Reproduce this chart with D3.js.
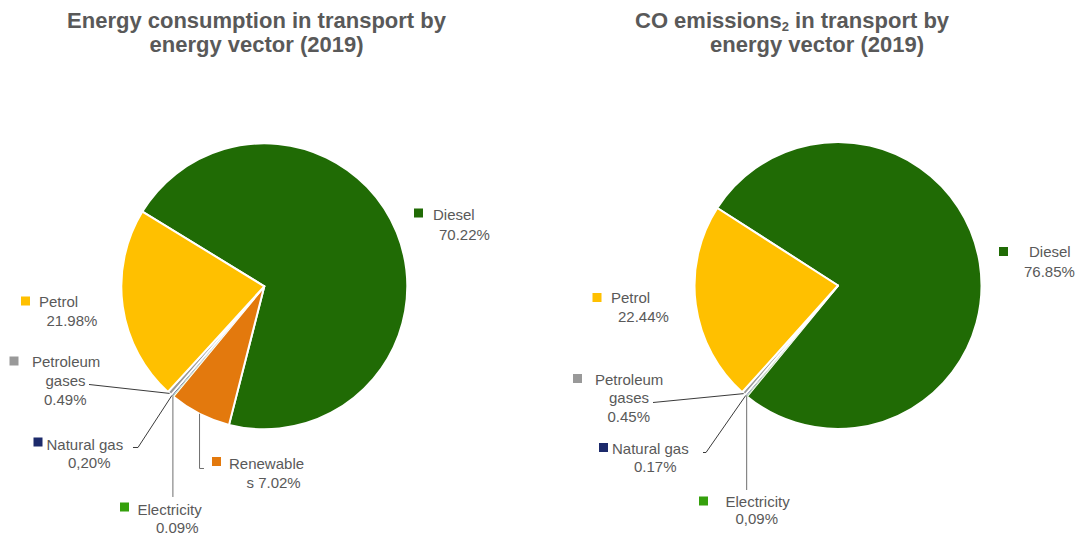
<!DOCTYPE html>
<html>
<head>
<meta charset="utf-8">
<script src="https://cdn.jsdelivr.net/npm/d3@7/dist/d3.min.js"></script>
<style>
  html, body { margin: 0; padding: 0; background: #ffffff; }
  svg { display: block; font-family: "Liberation Sans", Arial, sans-serif; }
</style>
</head>
<body>
<svg id="chart" width="1079" height="538"></svg>
<script>
// ---- Data -------------------------------------------------------------
// Energy consumption in transport by energy vector (2019), share in %
const energyCategories = ["Diesel", "Renewables", "Electricity", "Natural gas", "Petroleum gases", "Petrol"];
const energyValues     = [70.22, 7.02, 0.09, 0.20, 0.49, 21.98];
const energyDecimalSep = [".", ".", ".", ",", ".", "."];

// CO2 emissions in transport by energy vector (2019), share in %
const co2Categories = ["Diesel", "Electricity", "Natural gas", "Petroleum gases", "Petrol"];
const co2Values     = [76.85, 0.09, 0.17, 0.45, 22.44];
const co2DecimalSep = [".", ",", ".", ".", "."];

// ---- Styling ----------------------------------------------------------
const colors = {
  "Diesel": "#206b05",
  "Petrol": "#ffc000",
  "Renewables": "#e3790d",
  "Electricity": "#35a00c",
  "Natural gas": "#1c2a6b",
  "Petroleum gases": "#999999"
};
const textColor = "#595959";
const leaderColor = "#3a3a3a";

const svg = d3.select("#chart");
const fmt = d3.format(".2f");

function pctLabel(v, sep) {
  return fmt(v).replace(".", sep) + "%";
}

// split "name value" into lines at character positions
function breakText(s, cuts) {
  const out = [];
  let prev = 0;
  cuts.forEach(c => { out.push(s.slice(prev, c).trim()); prev = c; });
  out.push(s.slice(prev).trim());
  return out;
}

// ---- Titles -----------------------------------------------------------
const titles = svg.append("g")
  .attr("fill", textColor)
  .attr("font-weight", "bold")
  .attr("font-size", 22);

titles.append("text").attr("x", 256.5).attr("y", 27.5).attr("text-anchor", "middle")
  .text("Energy consumption in transport by");
titles.append("text").attr("x", 256.5).attr("y", 52).attr("text-anchor", "middle")
  .text("energy vector (2019)");

const t2 = titles.append("text").attr("x", 635).attr("y", 27.5);
t2.append("tspan").text("CO emissions");
t2.append("tspan").attr("font-size", 13).attr("dy", 3.5).text("2");
t2.append("tspan").attr("dy", -3.5).text(" in transport by");
titles.append("text").attr("x", 710).attr("y", 52).text("energy vector (2019)");

// ---- Pie drawing ------------------------------------------------------
function drawPie(cfg) {
  const data = cfg.categories.map((c, i) => ({ cat: c, value: cfg.values[i], sep: cfg.seps[i] }));
  const pie = d3.pie().sort(null).value(d => d.value)
    .startAngle(cfg.start).endAngle(cfg.start + 2 * Math.PI);
  const arcs = pie(data);
  const arc = d3.arc().innerRadius(0).outerRadius(cfg.r);
  const rim = d3.arc().innerRadius(cfg.r).outerRadius(cfg.r);

  const g = svg.append("g").attr("transform", `translate(${cfg.cx},${cfg.cy})`);

  g.selectAll("path.slice").data(arcs).join("path")
    .attr("class", "slice")
    .attr("d", arc)
    .attr("fill", d => colors[d.data.cat])
    .attr("stroke", "#ffffff")
    .attr("stroke-width", d => (d.endAngle - d.startAngle) < 0.02 ? 0.6 : 2)
    .attr("stroke-linejoin", "round");

  // leader lines
  arcs.forEach(a => {
    const lay = cfg.layout[a.data.cat];
    if (!lay.leader) return;
    const p0 = rim.centroid(a);
    const pts = [[p0[0], p0[1]]];
    lay.leader.forEach(p => {
      pts.push([p[0] === null ? p0[0] : p[0] - cfg.cx, p[1] - cfg.cy]);
    });
    g.append("path")
      .attr("d", d3.line()(pts))
      .attr("fill", "none")
      .attr("stroke", lay.leaderColor || leaderColor)
      .attr("stroke-width", 1);
  });

  // labels: legend key + category name + value
  const lg = svg.append("g").attr("fill", textColor).attr("font-size", 15);
  arcs.forEach(a => {
    const lay = cfg.layout[a.data.cat];
    lg.append("rect")
      .attr("x", lay.key[0]).attr("y", lay.key[1])
      .attr("width", 9).attr("height", 9)
      .attr("fill", colors[a.data.cat]);
    const full = a.data.cat + " " + pctLabel(a.data.value, a.data.sep);
    const lines = breakText(full, lay.cuts);
    lines.forEach((ln, i) => {
      lg.append("text")
        .attr("x", lay.lines[i][0]).attr("y", lay.lines[i][1])
        .text(ln);
    });
  });
}

const deg = Math.PI / 180;

drawPie({
  categories: energyCategories, values: energyValues, seps: energyDecimalSep,
  cx: 264.3, cy: 286.3, r: 143, start: -58.5 * deg,
  layout: {
    "Diesel":          { key: [414, 208.5], cuts: [6],      lines: [[433, 220], [439, 240]] },
    "Renewables":      { key: [212, 457],   cuts: [9],      lines: [[229, 469], [246.5, 488]],
                         leader: [[null, 468.5], [204, 468.5]], leaderColor: "#6f6f6f" },
    "Electricity":     { key: [120, 502.5], cuts: [11],     lines: [[137.5, 514.5], [156, 533]],
                         leader: [[null, 497]], leaderColor: "#6f6f6f" },
    "Natural gas":     { key: [33.5, 437.5], cuts: [11],    lines: [[46.5, 449.5], [68, 467.5]],
                         leader: [[138, 447.5], [133, 447.5]] },
    "Petroleum gases": { key: [9.5, 356.5], cuts: [9, 15],  lines: [[32, 366.5], [45.5, 385.5], [44, 404.5]],
                         leader: [[89, 384.5]] },
    "Petrol":          { key: [21, 296.5],  cuts: [6],      lines: [[39, 306.5], [46.5, 325.5]] }
  }
});

drawPie({
  categories: co2Categories, values: co2Values, seps: co2DecimalSep,
  cx: 838, cy: 285.5, r: 143.5, start: -57.3 * deg,
  layout: {
    "Diesel":          { key: [999, 247],   cuts: [6],      lines: [[1029, 257], [1024, 276.5]] },
    "Electricity":     { key: [699, 496.5], cuts: [11],     lines: [[725.5, 507], [735.5, 524]],
                         leader: [[null, 490]], leaderColor: "#6f6f6f" },
    "Natural gas":     { key: [599, 443],   cuts: [11],     lines: [[612, 453.5], [634, 472]],
                         leader: [[706, 452.5], [703, 452.5]] },
    "Petroleum gases": { key: [573, 374],   cuts: [9, 15],  lines: [[595, 384.5], [609, 403], [607.5, 422]],
                         leader: [[653, 402.5]] },
    "Petrol":          { key: [592.5, 293], cuts: [6],      lines: [[611, 303], [618, 322]] }
  }
});
</script>
</body>
</html>
